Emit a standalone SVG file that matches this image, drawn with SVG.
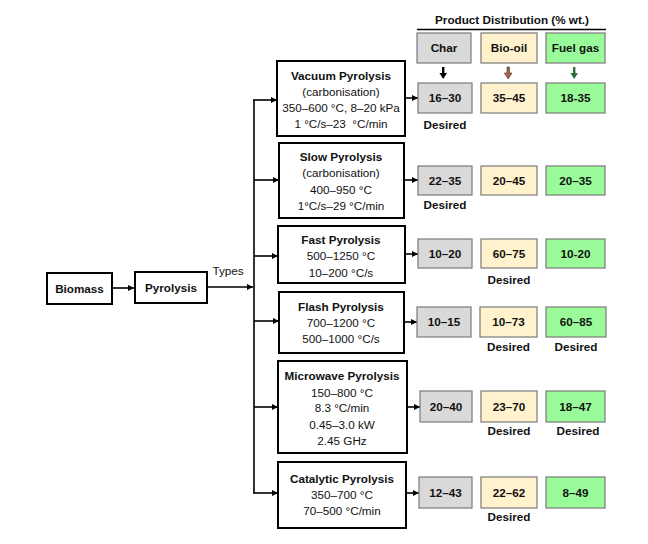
<svg xmlns="http://www.w3.org/2000/svg" width="648" height="544" viewBox="0 0 648 544">
<style>
text{font-family:"Liberation Sans",Arial,sans-serif;font-size:11.7px;fill:#111;text-anchor:middle}
.b{font-weight:bold}
.box{fill:#fff;stroke:#000;stroke-width:2}
.char{fill:#d9d9d9;stroke:#7a7a7a;stroke-width:1.2}
.oil{fill:#fff2cc;stroke:#7a7a7a;stroke-width:1.2}
.gas{fill:#99fb99;stroke:#7a7a7a;stroke-width:1.2}
.con{stroke:#000;stroke-width:1.6;fill:none}
</style>
<defs>
<marker id="ah" viewBox="0 0 10 10" refX="10" refY="5" markerWidth="6" markerHeight="6" markerUnits="userSpaceOnUse" orient="auto">
<path d="M0,0 L10,5 L0,10 z" fill="#000"/>
</marker>
</defs>
<rect width="648" height="544" fill="#fff"/>
<g id="connectors">
<path class="con" d="M112,288 H134" marker-end="url(#ah)"/>
<path class="con" d="M207,287 H253" marker-end="url(#ah)"/>
<path class="con" d="M254,100 V493"/>
<path class="con" d="M253,100 H277" marker-end="url(#ah)"/>
<path class="con" d="M254,180 H279" marker-end="url(#ah)"/>
<path class="con" d="M254,256 H278" marker-end="url(#ah)"/>
<path class="con" d="M254,321 H279" marker-end="url(#ah)"/>
<path class="con" d="M254,407 H278" marker-end="url(#ah)"/>
<path class="con" d="M253,493 H278" marker-end="url(#ah)"/>
<path class="con" d="M405,98 H418" marker-end="url(#ah)"/>
<path class="con" d="M404,180 H418" marker-end="url(#ah)"/>
<path class="con" d="M405,254 H418" marker-end="url(#ah)"/>
<path class="con" d="M404,322 H417" marker-end="url(#ah)"/>
<path class="con" d="M407,407 H420" marker-end="url(#ah)"/>
<path class="con" d="M406,493 H419" marker-end="url(#ah)"/>
<path d="M442,67 h2.4 v6 h2.6 l-3.8,6 l-3.8,-6 h2.6 z" fill="#000"/>
<path d="M507,67 h2.4 v6 h2.6 l-3.8,6 l-3.8,-6 h2.6 z" fill="#a86850" stroke="#4a2a1a" stroke-width="0.6"/>
<path d="M573,67 h2.4 v6 h2.6 l-3.8,6 l-3.8,-6 h2.6 z" fill="#2e6e3a"/>
</g>
<g id="biomass"><rect class="box" x="47" y="273" width="65" height="31"/><text class="b" x="79.5" y="292.5">Biomass</text></g>
<g id="pyrolysis"><rect class="box" x="135" y="272" width="72" height="31"/><text class="b" x="171" y="291.5">Pyrolysis</text></g>
<text x="228" y="275">Types</text>
<g id="header">
<text class="b" x="512" y="24">Product Distribution (% wt.)</text>
<path d="M417,29.5 H606" stroke="#000" stroke-width="1.6"/>
<rect class="char" x="417" y="33" width="54" height="30"/><text class="b" x="444" y="52">Char</text>
<rect class="oil" x="481" y="33" width="56" height="30"/><text class="b" x="509" y="52">Bio-oil</text>
<rect class="gas" x="546" y="33" width="59" height="30"/><text class="b" x="575.5" y="52">Fuel gas</text>
</g>
<g id="vacuum">
<rect class="box" x="277" y="61" width="128" height="75"/>
<text class="b" x="341" y="80">Vacuum Pyrolysis</text>
<text x="341" y="96">(carbonisation)</text>
<text x="341" y="112">350–600 °C, 8–20 kPa</text>
<text x="341" y="128">1 °C/s–23&#160; °C/min</text>
<rect class="char" x="418" y="83" width="54" height="30"/><text class="b" x="445" y="102">16–30</text>
<rect class="oil" x="481" y="83" width="56" height="30"/><text class="b" x="509" y="102">35–45</text>
<rect class="gas" x="546" y="83" width="59" height="30"/><text class="b" x="575.5" y="102">18-35</text>
<text class="b" x="445" y="129">Desired</text>
</g>
<g id="slow">
<rect class="box" x="279" y="143" width="125" height="75"/>
<text class="b" x="341" y="161">Slow Pyrolysis</text>
<text x="341" y="177">(carbonisation)</text>
<text x="341" y="194">400–950 °C</text>
<text x="341" y="210">1°C/s–29 °C/min</text>
<rect class="char" x="418" y="166" width="54" height="29"/><text class="b" x="445" y="184.5">22–35</text>
<rect class="oil" x="481" y="166" width="56" height="29"/><text class="b" x="509" y="184.5">20–45</text>
<rect class="gas" x="546" y="166" width="59" height="29"/><text class="b" x="575.5" y="184.5">20–35</text>
<text class="b" x="445" y="209">Desired</text>
</g>
<g id="fast">
<rect class="box" x="278" y="226" width="127" height="57"/>
<text class="b" x="341" y="244">Fast Pyrolysis</text>
<text x="341" y="260">500–1250 °C</text>
<text x="341" y="277">10–200 °C/s</text>
<rect class="char" x="418" y="239" width="54" height="29"/><text class="b" x="445" y="258">10–20</text>
<rect class="oil" x="481" y="239" width="56" height="29"/><text class="b" x="509" y="258">60–75</text>
<rect class="gas" x="546" y="239" width="59" height="29"/><text class="b" x="575.5" y="258">10-20</text>
<text class="b" x="509" y="284">Desired</text>
</g>
<g id="flash">
<rect class="box" x="279" y="292" width="125" height="61"/>
<text class="b" x="341" y="311">Flash Pyrolysis</text>
<text x="341" y="327">700–1200 °C</text>
<text x="341" y="343">500–1000 °C/s</text>
<rect class="char" x="417" y="307" width="54" height="30"/><text class="b" x="444" y="326">10–15</text>
<rect class="oil" x="480" y="307" width="57" height="30"/><text class="b" x="508.5" y="326">10–73</text>
<rect class="gas" x="546" y="307" width="60" height="30"/><text class="b" x="576" y="326">60–85</text>
<text class="b" x="508.5" y="351">Desired</text>
<text class="b" x="576" y="351">Desired</text>
</g>
<g id="microwave">
<rect class="box" x="278" y="361" width="129" height="92"/>
<text class="b" x="342" y="380">Microwave Pyrolysis</text>
<text x="342" y="397">150–800 °C</text>
<text x="342" y="412">8.3 °C/min</text>
<text x="342" y="429">0.45–3.0 kW</text>
<text x="342" y="445">2.45 GHz</text>
<rect class="char" x="420" y="391" width="52" height="31"/><text class="b" x="446" y="411">20–40</text>
<rect class="oil" x="481" y="391" width="56" height="31"/><text class="b" x="509" y="411">23–70</text>
<rect class="gas" x="546" y="391" width="59" height="31"/><text class="b" x="575.5" y="411">18–47</text>
<text class="b" x="509" y="435">Desired</text>
<text class="b" x="578" y="435">Desired</text>
</g>
<g id="catalytic">
<rect class="box" x="278" y="462" width="128" height="66"/>
<text class="b" x="342" y="483">Catalytic Pyrolysis</text>
<text x="342" y="499">350–700 °C</text>
<text x="342" y="515">70–500 °C/min</text>
<rect class="char" x="419" y="477" width="53" height="31"/><text class="b" x="445.5" y="497">12–43</text>
<rect class="oil" x="481" y="477" width="56" height="31"/><text class="b" x="509" y="497">22–62</text>
<rect class="gas" x="546" y="477" width="59" height="31"/><text class="b" x="575.5" y="497">8–49</text>
<text class="b" x="509" y="521">Desired</text>
</g>
</svg>
